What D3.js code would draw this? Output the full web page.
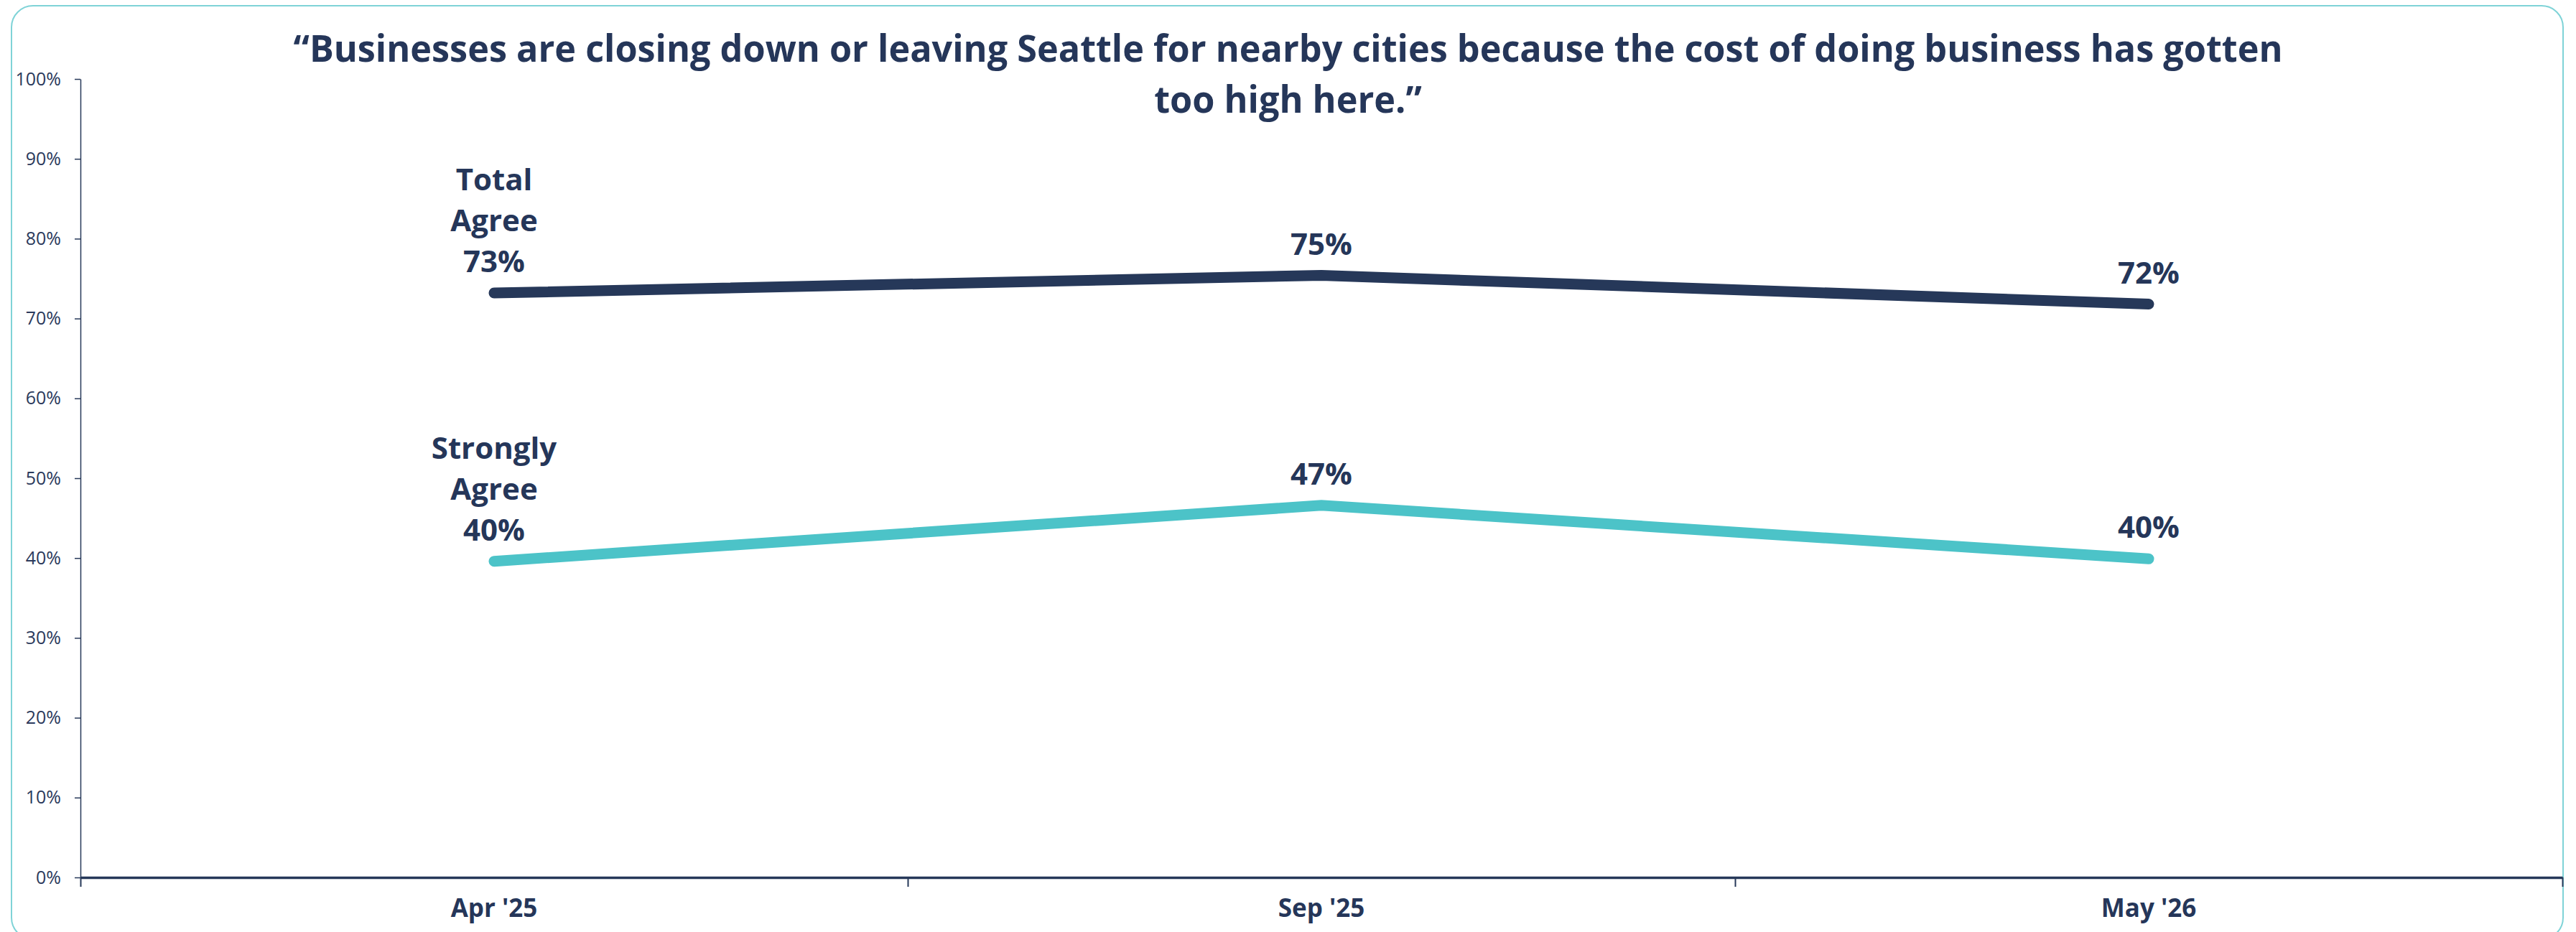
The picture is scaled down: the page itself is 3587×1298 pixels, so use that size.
<!DOCTYPE html>
<html>
<head>
<meta charset="utf-8">
<script src="https://cdn.jsdelivr.net/npm/d3@7"></script>
<style>
  html, body { margin: 0; padding: 0; background: #ffffff; }
  svg { display: block; }
  text { font-family: "Open Sans", "Noto Sans", sans-serif; }
</style>
</head>
<body>
<svg id="chart" width="3587" height="1298"></svg>
<script>
// Survey waves along the x axis
const categories = ["Apr '25", "Sep '25", "May '26"];

// Share agreeing with the statement, percent
const totalAgree = [73.2, 75.4, 71.8];
const stronglyAgree = [39.6, 46.6, 39.9];

// Series names, shown stacked above the first point of each line
const seriesNames = [["Total", "Agree"], ["Strongly", "Agree"]];

// Y axis tick values (percent)
const yTicks = [0, 10, 20, 30, 40, 50, 60, 70, 80, 90, 100];

// Title, split over two lines
const titleLines = [
  "\u201CBusinesses are closing down or leaving Seattle for nearby cities because the cost of doing business has gotten",
  "too high here.\u201D"
];

const W = 3587, H = 1298;
const navy = "#263859";
const teal = "#4cc3c8";
const textNavy = "#253659";

const svg = d3.select("#chart");

// Rounded frame around the whole chart
svg.append("rect")
  .attr("x", 16).attr("y", 8)
  .attr("width", 3553).attr("height", 1300)
  .attr("rx", 30).attr("ry", 30)
  .attr("fill", "none")
  .attr("stroke", "#7fd3d7")
  .attr("stroke-width", 2);

const plot = { left: 112, right: 3568, top: 110, bottom: 1222 };

const x = d3.scaleBand().domain(categories).range([plot.left, plot.right]);
const xMid = c => x(c) + x.bandwidth() / 2;
const y = d3.scaleLinear().domain([0, 100]).range([plot.bottom, plot.top]);

// Title
const title = svg.append("g");
const titleBaselines = [86, 157];
const titleEls = titleLines.map((t, i) =>
  title.append("text")
    .attr("x", W / 2)
    .attr("y", titleBaselines[i])
    .attr("text-anchor", "middle")
    .attr("font-size", 52)
    .attr("font-weight", 700)
    .attr("fill", textNavy)
    .text(t)
);
// Fit the first line to its width and compress the second line by the same ratio
const firstLen = titleEls[0].node().getComputedTextLength();
const ratio = 2770 / firstLen;
titleEls.forEach(el => {
  const len = el.node().getComputedTextLength();
  el.attr("textLength", len * ratio).attr("lengthAdjust", "spacingAndGlyphs");
});

// Y axis
const yAxis = svg.append("g")
  .attr("transform", `translate(${plot.left},0)`)
  .call(d3.axisLeft(y).tickValues(yTicks).tickFormat(d => d + "%")
    .tickSize(8).tickSizeOuter(0).tickPadding(19));
yAxis.select(".domain").attr("stroke", navy).attr("stroke-width", 1.5);
yAxis.selectAll(".tick line").attr("stroke", navy).attr("stroke-width", 1.5);
yAxis.selectAll(".tick text")
  .attr("font-size", 25)
  .attr("font-family", "'Open Sans', sans-serif")
  .attr("fill", "#2b3a5c");

// X axis boundary ticks between survey waves
const xEdges = d3.scaleLinear().domain([0, categories.length]).range([plot.left, plot.right]);
const xTickAxis = svg.append("g")
  .attr("transform", `translate(0,${plot.bottom})`)
  .call(d3.axisBottom(xEdges).tickValues(d3.range(categories.length + 1))
    .tickFormat("").tickSize(13).tickSizeOuter(0));
xTickAxis.select(".domain").attr("stroke", navy).attr("stroke-width", 3.5);
xTickAxis.selectAll(".tick line").attr("stroke", navy).attr("stroke-width", 2);

// X axis category labels
const xAxis = svg.append("g")
  .attr("transform", `translate(0,${plot.bottom})`)
  .call(d3.axisBottom(x).tickSize(0).tickPadding(30));
xAxis.select(".domain").remove();
xAxis.selectAll(".tick text")
  .attr("font-size", 35)
  .attr("font-weight", 700)
  .attr("font-family", "'Open Sans', sans-serif")
  .attr("fill", textNavy);

// Lines
const series = [
  { values: totalAgree, color: navy, name: seriesNames[0] },
  { values: stronglyAgree, color: teal, name: seriesNames[1] }
];

const line = d3.line()
  .x((d, i) => xMid(categories[i]))
  .y(d => y(d));

series.forEach(s => {
  svg.append("path")
    .datum(s.values)
    .attr("d", line)
    .attr("fill", "none")
    .attr("stroke", s.color)
    .attr("stroke-width", 15)
    .attr("stroke-linecap", "round")
    .attr("stroke-linejoin", "miter");
});

// Value labels; the first point also carries the series name
const fmt = v => Math.round(v) + "%";
const labelGap = 29, lineStep = 57;
series.forEach(s => {
  s.values.forEach((v, i) => {
    const cx = xMid(categories[i]);
    const base = y(v) - labelGap;
    const lines = i === 0 ? [...s.name, fmt(v)] : [fmt(v)];
    lines.forEach((t, k) => {
      svg.append("text")
        .attr("x", cx)
        .attr("y", base - (lines.length - 1 - k) * lineStep)
        .attr("text-anchor", "middle")
        .attr("font-size", 42)
        .attr("font-weight", 700)
        .attr("fill", textNavy)
        .text(t);
    });
  });
});
</script>
</body>
</html>
